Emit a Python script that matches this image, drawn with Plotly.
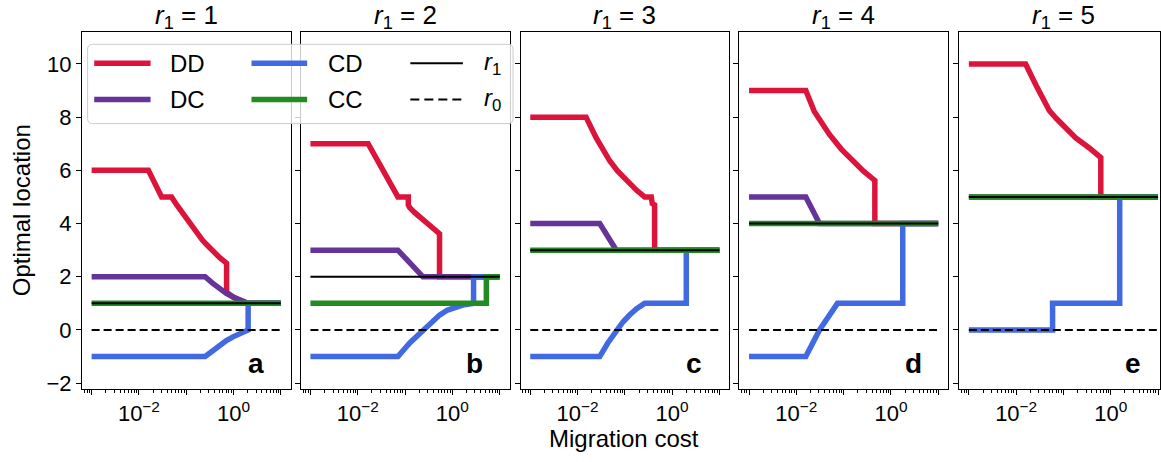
import plotly.graph_objects as go

W, H = 1161, 462
FONT = "Liberation Sans, Arial, Helvetica, sans-serif"

# ---------------- data ----------------
panel_letters = ["a", "b", "c", "d", "e"]
r1_values = [1, 2, 3, 4, 5]
r0_value = 0
cost_span = [0.001, 10]

# panel a (r1 = 1)
a_dd_cost = [0.001, 0.01585, 0.0302, 0.049, 0.0631, 0.0794, 0.1, 0.1202, 0.15, 0.1778, 0.22, 0.2692, 0.3715, 0.5129, 0.7145, 0.7145, 1.0, 1.413, 1.995, 10]
a_dd_loc = [6, 6, 5, 5, 4.7, 4.45, 4.18, 3.95, 3.75, 3.57, 3.38, 3.21, 2.95, 2.72, 2.51, 1.42, 1.23, 1.1, 1.0, 1.0]
a_dc_cost = [0.001, 0.2512, 0.3548, 0.5129, 0.7079, 1.0, 1.413, 1.995, 10]
a_dc_loc = [2, 2, 1.77, 1.54, 1.37, 1.23, 1.1, 1.0, 1.0]
a_cd_cost = [0.001, 0.2512, 0.3548, 0.5129, 0.7079, 1.0, 1.413, 2.042, 2.042, 10]
a_cd_loc = [-1, -1, -0.8, -0.56, -0.4, -0.25, -0.12, 0.0, 1.0, 1.0]
a_cc_cost = [0.001, 10]
a_cc_loc = [1, 1]

# panel b (r1 = 2)
b_dd_cost = [0.001, 0.0166, 0.0708, 0.1072, 0.1175, 0.1175, 0.1259, 0.1585, 0.2, 0.2399, 0.2951, 0.3548, 0.44, 0.5370, 0.5370, 10]
b_dd_loc = [7, 7, 5, 5, 5, 4.7, 4.6, 4.42, 4.27, 4.14, 4.0, 3.87, 3.74, 3.62, 2.0, 2.0]
b_dc_cost = [0.001, 0.0708, 0.2399, 10]
b_dc_loc = [3, 3, 2, 2]
b_cd_cost = [0.001, 0.0708, 0.1259, 0.2399, 0.3548, 0.5370, 0.7943, 1.230, 1.778, 2.818, 2.818, 10]
b_cd_loc = [-1, -1, -0.49, 0.0, 0.3, 0.56, 0.75, 0.87, 0.95, 1.0, 2.0, 2.0]
b_cc_cost = [0.001, 5.248, 5.248, 10]
b_cc_loc = [1, 1, 2, 2]

# panel c (r1 = 3)
c_dd_cost = [0.001, 0.01514, 0.02483, 0.0347, 0.04786, 0.0708, 0.1072, 0.1778, 0.2630, 0.3631, 0.3802, 0.4266, 0.4266, 10]
c_dd_loc = [8, 8, 7.22, 6.75, 6.36, 5.97, 5.62, 5.25, 5.0, 5.0, 4.75, 4.7, 3.0, 3.0]
c_dc_cost = [0.001, 0.02951, 0.0661, 10]
c_dc_loc = [4, 4, 3, 3]
c_cd_cost = [0.001, 0.02951, 0.04365, 0.0661, 0.0912, 0.1259, 0.1778, 0.2630, 1.995, 1.995, 10]
c_cd_loc = [-1, -1, -0.49, 0.0, 0.3, 0.56, 0.8, 1.0, 1.0, 3.0, 3.0]
c_cc_cost = [0.001, 10]
c_cc_loc = [3, 3]

# panel d (r1 = 4)
d_dd_cost = [0.001, 0.01585, 0.02399, 0.0355, 0.0501, 0.0891, 0.1549, 0.2630, 0.4571, 0.4571, 10]
d_dd_loc = [9, 9, 8.21, 7.72, 7.35, 6.8, 6.36, 5.97, 5.62, 4.0, 4.0]
d_dc_cost = [0.001, 0.01585, 0.0309, 10]
d_dc_loc = [5, 5, 4, 4]
d_cd_cost = [0.001, 0.01585, 0.0309, 0.0741, 1.778, 1.778, 10]
d_cd_loc = [-1, -1, 0, 1, 1, 4, 4]
d_cc_cost = [0.001, 10]
d_cc_loc = [4, 4]

# panel e (r1 = 5)
e_dd_cost = [0.001, 0.01585, 0.0263, 0.0372, 0.0501, 0.0708, 0.0955, 0.1820, 0.3467, 0.6166, 0.6166, 10]
e_dd_loc = [10, 10, 9.2, 8.65, 8.25, 7.95, 7.72, 7.22, 6.85, 6.48, 5.0, 5.0]
e_dc_cost = [0.001, 10]
e_dc_loc = [5, 5]
e_cd_cost = [0.001, 0.0589, 0.0589, 1.549, 1.549, 10]
e_cd_loc = [0, 0, 1, 1, 5, 5]
e_cc_cost = [0.001, 10]
e_cc_loc = [5, 5]

series_names = ["DD", "DC", "CD", "CC"]
series_colors = ["#DC143C", "#663399", "#4169E1", "#228B22"]

panel_series = [
    [(a_dd_cost, a_dd_loc), (a_dc_cost, a_dc_loc), (a_cd_cost, a_cd_loc), (a_cc_cost, a_cc_loc)],
    [(b_dd_cost, b_dd_loc), (b_dc_cost, b_dc_loc), (b_cd_cost, b_cd_loc), (b_cc_cost, b_cc_loc)],
    [(c_dd_cost, c_dd_loc), (c_dc_cost, c_dc_loc), (c_cd_cost, c_cd_loc), (c_cc_cost, c_cc_loc)],
    [(d_dd_cost, d_dd_loc), (d_dc_cost, d_dc_loc), (d_cd_cost, d_cd_loc), (d_cc_cost, d_cc_loc)],
    [(e_dd_cost, e_dd_loc), (e_dc_cost, e_dc_loc), (e_cd_cost, e_cd_loc), (e_cc_cost, e_cc_loc)],
]

y_ticks = [-2, 0, 2, 4, 6, 8, 10]
y_ticktext = ["\u22122", "0", "2", "4", "6", "8", "10"]
x_major = [0.001, 0.01, 0.1, 1, 10]
x_ticktext = ["", "10<sup>\u22122</sup>", "", "10<sup>0</sup>", ""]

# ---------------- layout geometry ----------------
x_px = [(82, 291), (301, 510), (521, 730), (740, 949), (960, 1161)]
y_top, y_bot = 32, 395
px_per_dec = 209 / (1.211 + 3.205)
x_ranges = [[-3.205, 1.211]] * 4 + [[-3.205, -3.205 + 201 / px_per_dec]]
y_range = [-2.22, 11.22]

x_minor = [k * 10.0 ** p for p in range(-4, 2) for k in range(2, 10)]

fig = go.Figure()
layout = dict(
    width=W, height=H,
    margin=dict(l=0, r=0, t=0, b=0),
    paper_bgcolor="white", plot_bgcolor="white",
    showlegend=False,
    font=dict(family=FONT, color="black"),
)

annotations = []
shapes = []

for i in range(5):
    k = "" if i == 0 else str(i + 1)
    xa, ya = "x" + k, "y" + k
    for (cost, loc), name, col in zip(panel_series[i], series_names, series_colors):
        fig.add_trace(go.Scatter(x=cost, y=loc, mode="lines", name=name,
                                 line=dict(color=col, width=5.5),
                                 xaxis=xa, yaxis=ya))
    fig.add_trace(go.Scatter(x=cost_span, y=[r1_values[i]] * 2, mode="lines", name="r1",
                             line=dict(color="black", width=2), xaxis=xa, yaxis=ya))
    fig.add_trace(go.Scatter(x=cost_span, y=[r0_value] * 2, mode="lines", name="r0",
                             line=dict(color="black", width=2, dash="8px,4px"), xaxis=xa, yaxis=ya))

    x0, x1 = x_px[i]
    layout["xaxis" + k] = dict(
        domain=[x0 / W, x1 / W], type="log", range=x_ranges[i], anchor=ya,
        tickmode="array", tickvals=x_major, ticktext=x_ticktext,
        ticks="outside", ticklen=5, tickwidth=1, tickcolor="black",
        showline=True, mirror=True, linecolor="black", linewidth=1,
        showgrid=False, zeroline=False,
        tickfont=dict(size=22, color="black", family=FONT),
        minor=dict(tickmode="array", tickvals=x_minor, ticks="outside", ticklen=3,
                   tickwidth=1, tickcolor="black", showgrid=False),
    )
    layout["yaxis" + k] = dict(
        domain=[1 - y_bot / H, 1 - y_top / H], range=y_range, anchor=xa,
        tickmode="array", tickvals=y_ticks, ticktext=y_ticktext,
        showticklabels=(i == 0),
        ticks="outside", ticklen=5, tickwidth=1, tickcolor="black",
        showline=True, mirror=True, linecolor="black", linewidth=1,
        showgrid=False, zeroline=False,
        tickfont=dict(size=22, color="black", family=FONT),
    )
    # panel title
    annotations.append(dict(
        x=(x0 + 209 / 2) / W,
        y=1 - 17 / H, xref="paper", yref="paper",
        text="<i>r</i><sub>1</sub> = %d" % r1_values[i], showarrow=False,
        xanchor="center", yanchor="middle",
        font=dict(size=26, family=FONT, color="black")))
    # panel letter
    right = x0 + 209
    annotations.append(dict(
        x=(right - 35) / W, y=1 - 369 / H, xref="paper", yref="paper",
        text="<b>%s</b>" % panel_letters[i], showarrow=False,
        xanchor="center", yanchor="middle",
        font=dict(size=28, family=FONT, color="black")))

# axis labels
annotations.append(dict(x=625 / W, y=1 - 445 / H, xref="paper", yref="paper",
                        text="Migration cost", showarrow=False, xanchor="center", yanchor="middle",
                        font=dict(size=24, family=FONT, color="black")))
annotations.append(dict(x=21 / W, y=1 - 213.5 / H, xref="paper", yref="paper",
                        text="Optimal location", showarrow=False, textangle=-90,
                        xanchor="center", yanchor="middle",
                        font=dict(size=24, family=FONT, color="black")))

# ---------------- legend (drawn manually) ----------------
def px(x):
    return x / W

def py(y):
    return 1 - y / H

bx0, by0, bx1, by1, rr = 87.7, 45, 513.5, 125.5, 5
path = ("M {a},{b} L {c},{b} Q {x1},{b} {x1},{d} L {x1},{e} Q {x1},{f} {c},{f} "
        "L {a},{f} Q {x0},{f} {x0},{e} L {x0},{d} Q {x0},{b} {a},{b} Z").format(
    a=px(bx0 + rr), b=py(by0), c=px(bx1 - rr), d=py(by0 + rr), e=py(by1 - rr), f=py(by1),
    x0=px(bx0), x1=px(bx1))
shapes.append(dict(type="path", path=path, xref="paper", yref="paper", layer="above",
                   fillcolor="rgba(255,255,255,0.8)", line=dict(color="#cccccc", width=1)))

legend_names = ["DD", "DC", "CD", "CC", "<i>r</i><sub>1</sub>", "<i>r</i><sub>0</sub>"]
legend_colors = series_colors + ["black", "black"]
legend_widths = [5.5, 5.5, 5.5, 5.5, 2, 2]
legend_dash = ["solid"] * 5 + ["9px,5px"]
col_line = [(94.3, 150.7), (251.7, 307.4), (410.7, 463.3)]
col_text = [168.3, 326.0, 482.7]
rows = [64.3, 101.0]
for j in range(6):
    c, r = j // 2, j % 2
    shapes.append(dict(type="line", xref="paper", yref="paper", layer="above",
                       x0=px(col_line[c][0]), x1=px(col_line[c][1]),
                       y0=py(rows[r]), y1=py(rows[r]),
                       line=dict(color=legend_colors[j], width=legend_widths[j], dash=legend_dash[j])))
    annotations.append(dict(x=px(col_text[c]), y=py(rows[r]), xref="paper", yref="paper",
                            text=legend_names[j], showarrow=False, xanchor="left", yanchor="middle",
                            font=dict(size=24, family=FONT, color="black")))

layout["annotations"] = annotations
layout["shapes"] = shapes
fig.update_layout(**layout)
fig.write_html("out.html")
